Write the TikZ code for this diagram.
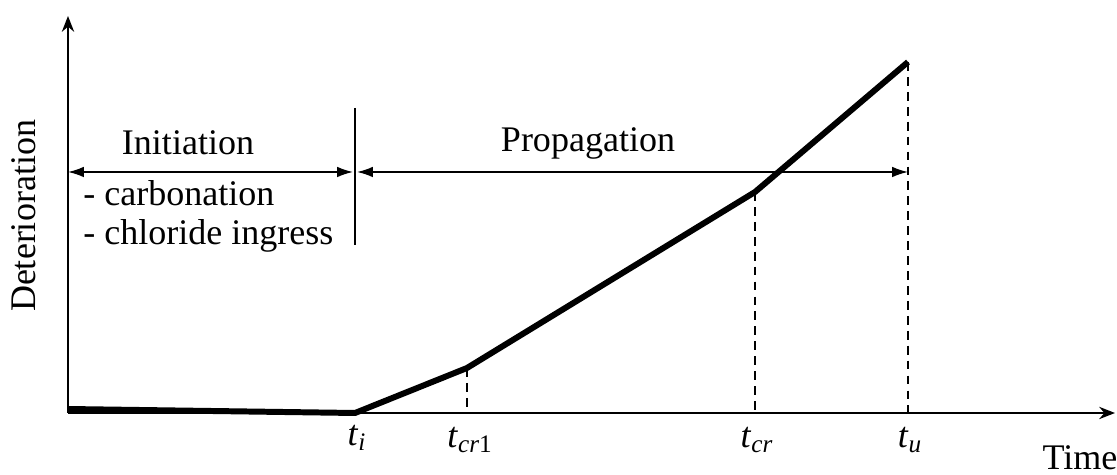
\documentclass[tikz,border=0pt]{standalone}
\usepackage{fontspec}
\setmainfont{Liberation Serif}
\usetikzlibrary{arrows.meta}

\newcommand{\tlab}[1]{\textit{t}\textsubscript{#1}}

\begin{document}
\begin{tikzpicture}[x=0.02cm,y=-0.02cm,
  axis/.style={line width=1.1pt,-{Stealth[length=9pt,width=7pt]}},
  curve/.style={line width=3.4pt,line join=round},
  guide/.style={line width=0.8pt,dash pattern=on 5pt off 3.5pt},
  phase/.style={line width=0.9pt,{Latex[length=9pt,width=6pt]}-{Latex[length=9pt,width=6pt]}},
  lbl/.style={font=\fontsize{20.5}{24}\selectfont,inner sep=0pt}]
  \useasboundingbox (0,0) rectangle (1117,475);

  % axes
  \coordinate (O) at (68,413);
  \coordinate (ytop) at (68,16);
  \coordinate (xend) at (1115,413);
  \draw[axis] (O) -- (ytop);
  \draw[axis] (O) -- (xend);
  \node[lbl,rotate=90] (ylab) at (24,216) {Deterioration};
  \node[lbl] (xlab) at (1080,458) {Time};

  % deterioration curve
  \coordinate (start) at (68,409);
  \coordinate (ti) at (355,413);
  \coordinate (cr1) at (467,368);
  \coordinate (cr) at (755,192);
  \coordinate (tu) at (908,62);
  \draw[curve] (start) -- (ti) -- (cr1) -- (cr) -- (tu);

  % guides down to the time axis
  \coordinate (cr1foot) at (467,413);
  \coordinate (crfoot) at (755,413);
  \coordinate (tufoot) at (908,413);
  \draw[guide] (cr1) -- (cr1foot);
  \draw[guide] (cr) -- (crfoot);
  \draw[guide] (tu) -- (tufoot);

  \node[lbl] (lti) at (357,438) {\tlab{\textit{i}}};
  \node[lbl] (lcr1) at (470,440) {\tlab{\textit{cr}1}};
  \node[lbl] (lcr) at (757,440) {\tlab{\textit{cr}}};
  \node[lbl] (ltu) at (910,440) {\tlab{\textit{u}}};

  % phases
  \coordinate (sepTop) at (355,108);
  \coordinate (sepBot) at (355,245);
  \draw[line width=0.9pt] (sepTop) -- (sepBot);
  \coordinate (iniL) at (68,172);
  \coordinate (iniR) at (353,172);
  \coordinate (proL) at (357,172);
  \coordinate (proR) at (908,172);
  \draw[phase] (iniL) -- (iniR);
  \draw[phase] (proL) -- (proR);
  \node[lbl] (ini) at (188,143) {Initiation};
  \node[lbl] (pro) at (588,143) {Propagation};
  \node[lbl,anchor=west] (carb) at (83,193) {- carbonation};
  \node[lbl,anchor=west] (chl) at (83,236) {- chloride ingress};
\end{tikzpicture}
\end{document}
